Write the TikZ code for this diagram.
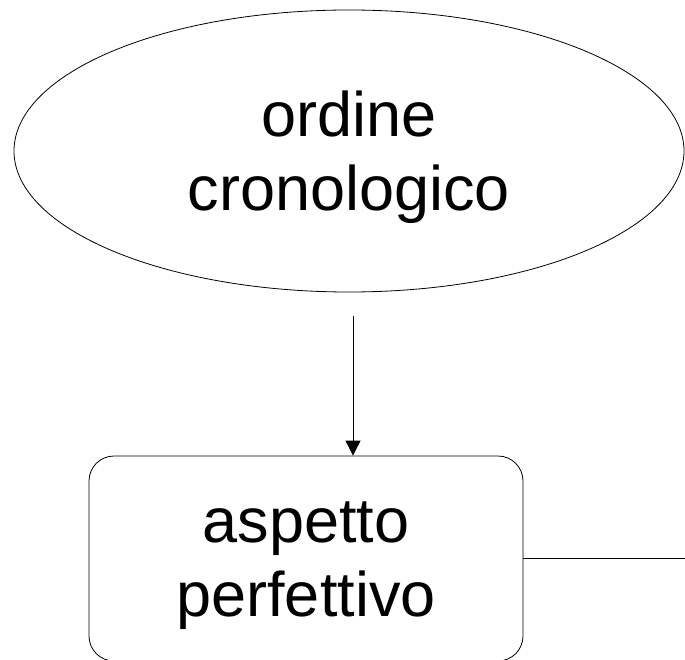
\documentclass[tikz,border=0pt]{standalone}
\usepackage{fontspec}
\setmainfont{Liberation Sans}
\usepackage{tikz}
\usetikzlibrary{arrows.meta,shapes.geometric}

\begin{document}
\begin{tikzpicture}[
  x=1pt, y=-1pt,
  txt/.style={font=\fontsize{63pt}{74pt}\selectfont, align=center, inner sep=0pt},
  oval/.style={draw, ellipse, line width=0.8pt, inner sep=0pt, minimum width=670pt, minimum height=282pt},
  box/.style={draw, rounded corners=25pt, line width=0.8pt, inner sep=0pt, minimum width=434pt, minimum height=205pt},
  arrow/.style={-{Triangle[length=15pt,width=15pt]}, line width=0.8pt},
  link/.style={line width=0.8pt}
]
  \useasboundingbox (0,0) rectangle (685,660);
  % shapes
  \node[oval] (ordine) at (349,151) {};
  \node[box] (aspetto) at (306,558.5) {};
  % texts, set a little low in their shapes
  \node[txt] (ordine text) at (349,157) {ordine\\cronologico};
  \node[txt] (aspetto text) at (306,566) {aspetto\\perfettivo};
  % connectors
  \coordinate (from) at (353,316);
  \coordinate (right) at (690,558.5);
  \draw[arrow] (from) -- (from |- aspetto.north);
  \draw[link] (aspetto.east) -- (right);
\end{tikzpicture}
\end{document}
